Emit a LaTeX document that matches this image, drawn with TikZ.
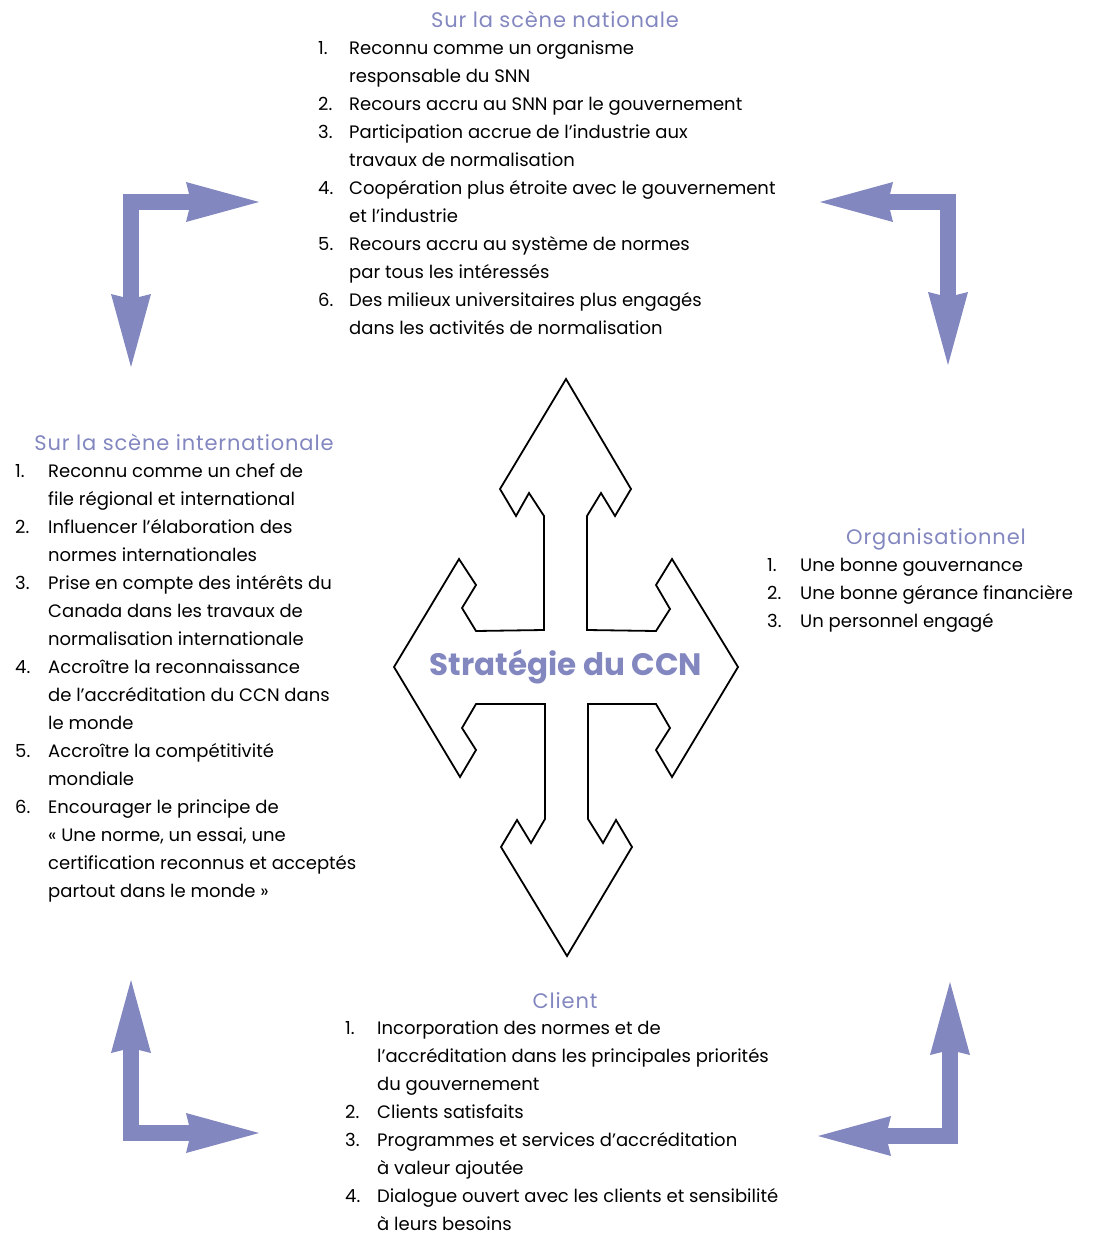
\documentclass[tikz,border=0pt]{standalone}
\usepackage{fontspec}
\setmainfont{Poppins}
\usetikzlibrary{arrows.meta}
\definecolor{ccnblue}{RGB}{131,135,192}
\tikzset{
  listtext/.style={inner sep=0pt, anchor=base west, font=\fontsize{18}{28}\selectfont},
  titletext/.style={inner sep=0pt, anchor=base, text=ccnblue, font=\fontsize{21}{25}\selectfont\addfontfeature{LetterSpace=4}},
  bentarrow/.style={draw=ccnblue, line width=16pt, line join=miter,
    {Stealth[length=73pt,width=40pt,inset=5pt,line width=0pt]}-{Stealth[length=73pt,width=40pt,inset=5pt,line width=0pt]}},
  crossline/.style={draw=black, line width=1.8pt, line join=miter}
}

\begin{document}
\begin{tikzpicture}[x=1pt, y=-1pt]
			%%%%% START %%%%%
			\useasboundingbox (0,0) rectangle (1102,1233);
			
			% cross in the middle
			\begin{scope}[shift={(566,667)}]
			\draw[crossline] (0,-288) -- (65,-178) -- (49,-151) -- (35,-174) -- (21,-151) -- (21,-37)
			  -- (90,-36) -- (104,-58) -- (90,-82) -- (106,-108) -- (172,0)
			  -- (106,110) -- (90,83) -- (104,61) -- (90,37) -- (22,37)
			  -- (22,152) -- (37,176) -- (50,153) -- (66,180) -- (1,289)
			  -- (-65,180) -- (-49,153) -- (-35,176) -- (-21,152) -- (-21,37)
			  -- (-90,37) -- (-104,61) -- (-90,83) -- (-106,110) -- (-172,0)
			  -- (-107,-108) -- (-90,-82) -- (-104,-59) -- (-90,-36) -- (-22,-37)
			  -- (-22,-151) -- (-37,-174) -- (-50,-151) -- (-66,-178) -- cycle;
			\end{scope}
			\node[inner sep=0pt, anchor=base, text=ccnblue, font=\fontsize{31}{36}\selectfont\bfseries] (strategie) at (566,675) {Stratégie du CCN};
			
			% corner arrows
			\draw[bentarrow] (259,202) -- (131,202) -- (131,367);
			\draw[bentarrow] (820,202) -- (948,202) -- (948,365);
			\draw[bentarrow] (131,980) -- (131,1133) -- (259,1133);
			\draw[bentarrow] (950,982) -- (950,1136) -- (818,1136);
			
			% national
			\node[titletext] (t-national) at (555,28) {Sur la scène nationale};
			\node[listtext] (national) at (318,55) {\begin{tabular}[t]{@{}p{31pt}@{}l@{}}
			1. & Reconnu comme un organisme\\
			   & responsable du SNN\\
			2. & Recours accru au SNN par le gouvernement\\
			3. & Participation accrue de l’industrie aux\\
			   & travaux de normalisation\\
			4. & Coopération plus étroite avec le gouvernement\\
			   & et l’industrie\\
			5. & Recours accru au système de normes\\
			   & par tous les intéressés\\
			6. & Des milieux universitaires plus engagés\\
			   & dans les activités de normalisation
			\end{tabular}};
			
			% international
			\node[titletext] (t-international) at (184,450) {Sur la scène internationale};
			\node[listtext] (international) at (15,477) {\begin{tabular}[t]{@{}p{33pt}@{}l@{}}
			1. & Reconnu comme un chef de\\
			   & file régional et international\\
			2. & Influencer l’élaboration des\\
			   & normes internationales\\
			3. & Prise en compte des intérêts du\\
			   & Canada dans les travaux de\\
			   & normalisation internationale\\
			4. & Accroître la reconnaissance\\
			   & de l’accréditation du CCN dans\\
			   & le monde\\
			5. & Accroître la compétitivité\\
			   & mondiale\\
			6. & Encourager le principe de\\
			   & « Une norme, un essai, une\\
			   & certification reconnus et acceptés\\
			   & partout dans le monde »
			\end{tabular}};
			
			% organisationnel
			\node[titletext] (t-organisation) at (936,544) {Organisationnel};
			\node[listtext] (organisation) at (767,571) {\begin{tabular}[t]{@{}p{33pt}@{}l@{}}
			1. & Une bonne gouvernance\\
			2. & Une bonne gérance financière\\
			3. & Un personnel engagé
			\end{tabular}};
			
			% client
			\node[titletext] (t-client) at (565,1008) {Client};
			\node[listtext] (client) at (345,1034) {\begin{tabular}[t]{@{}p{32pt}@{}l@{}}
			1. & Incorporation des normes et de\\
			   & l’accréditation dans les principales priorités\\
			   & du gouvernement\\
			2. & Clients satisfaits\\
			3. & Programmes et services d’accréditation\\
			   & à valeur ajoutée\\
			4. & Dialogue ouvert avec les clients et sensibilité\\
			   & à leurs besoins
			\end{tabular}};
			
			%%%%% END %%%%%
\end{tikzpicture}
\end{document}
